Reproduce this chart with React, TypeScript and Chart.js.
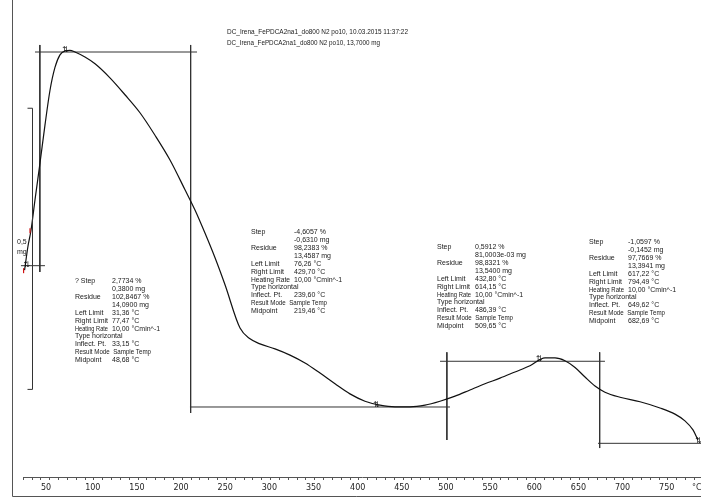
import React, { useEffect, useRef } from "react";
import { Chart, registerables } from "chart.js";
Chart.register(...registerables);

// ---- TGA curve: sample temperature (°C) vs mass (mg) ----
const tempC = [31.4, 35.3, 38.7, 43.2, 48.9, 54.5, 60.2, 65.9, 71.5, 77.2, 82.8, 88.5, 99.8, 111.2, 128.1, 145.1, 162.1, 179.1, 196.1, 213.1, 224.4, 235.7, 247.1, 258.4, 275.4, 286.7, 298.0, 315.0, 332.0, 349.0, 366.0, 383.0, 399.9, 416.9, 433.9, 450.9, 467.9, 484.9, 501.9, 518.9, 535.8, 552.8, 569.8, 586.8, 603.8, 620.8, 632.1, 643.4, 654.8, 666.1, 677.4, 688.7, 705.7, 728.4, 751.0, 768.0, 779.3, 788.4, 794.0];
const massMg = [13.702, 13.745, 13.773, 13.827, 13.893, 13.96, 14.022, 14.063, 14.085, 14.092, 14.093, 14.09, 14.081, 14.069, 14.044, 14.014, 13.982, 13.942, 13.898, 13.845, 13.809, 13.768, 13.724, 13.676, 13.599, 13.58, 13.571, 13.562, 13.551, 13.537, 13.519, 13.5, 13.482, 13.469, 13.462, 13.459, 13.459, 13.462, 13.469, 13.478, 13.489, 13.5, 13.51, 13.521, 13.532, 13.546, 13.546, 13.541, 13.529, 13.512, 13.496, 13.485, 13.476, 13.468, 13.457, 13.446, 13.434, 13.418, 13.4];

// ---- Step evaluation results ----
const stepPct = [2.7734, -4.6057, 0.5912, -1.0597];
const stepMg = [0.38, -0.631, 0.0810003, -0.1452];
const residuePct = [102.8467, 98.2383, 98.8321, 97.7669];
const residueMg = [14.09, 13.4587, 13.54, 13.3941];
const leftLimit = [31.36, 76.26, 432.8, 617.22];
const rightLimit = [77.47, 429.7, 614.15, 794.49];
const inflectPt = [33.15, 239.6, 486.39, 649.62];
const midpoint = [48.68, 219.46, 509.65, 682.69];
const heatingRate = "10,00 °Cmin^-1";
const stepNames = ["? Step", "Step", "Step", "Step"];

// baseline (horizontal) segment extents in °C, one per level (start level + after each step)
const levelSpans = [
  [27.3, 54.5],
  [43.2, 226.7],
  [218.7, 513.2],
  [501.9, 688.7],
  [680.8, 797.5],
];
// vertical midpoint line extents in mg [top, bottom]
const midSpans = [
  [14.1025, 13.6988],
  [14.1025, 13.448],
  [13.556, 13.4],
  [13.556, 13.3857],
];

const titleLines = [
  "DC_Irena_FePDCA2na1_do800 N2 po10, 10.03.2015 11:37:22",
  "DC_Irena_FePDCA2na1_do800 N2 po10, 13,7000 mg",
];
const tickLabelStep = 50;
const minorStep = 10;
const scaleBarMg = 0.5;

const fmt = (v: number, d: number) => v.toFixed(d).replace(".", ",");
const fmtMg = (v: number) =>
  Math.abs(v) < 0.1 ? fmt(v * 1000, 4) + "e-03 mg" : fmt(v, 4) + " mg";

const startLevel = residueMg[0] - stepMg[0];
const levels = [startLevel, ...residueMg];

// text block anchors (label x, value x, first-row y)
const blockPos = [
  [75, 112, 281],
  [251, 294, 232],
  [437, 475, 247],
  [589, 628, 242],
];
const rowOffsets = [0, 7.8, 16, 23.8, 32, 39.8, 47.6, 55.4, 63.4, 71.2, 79];

export default function App() {
  const ref = useRef<HTMLCanvasElement>(null);
  useEffect(() => {
    const canvas = ref.current!;
    const segSets: any[] = [];
    levelSpans.forEach((sp, i) => {
      segSets.push([{ x: sp[0], y: levels[i] }, { x: sp[1], y: levels[i] }]);
    });
    midSpans.forEach((sp, i) => {
      segSets.push([{ x: midpoint[i], y: sp[0] }, { x: midpoint[i], y: sp[1] }]);
    });

    const deco = {
      id: "deco",
      afterDraw(chart: any) {
        const ctx = chart.ctx as CanvasRenderingContext2D;
        const xs = chart.scales.x;
        const ys = chart.scales.y;
        ctx.save();
        // frame
        ctx.strokeStyle = "#555";
        ctx.lineWidth = 1;
        ctx.beginPath();
        ctx.moveTo(12.5, 0);
        ctx.lineTo(12.5, 496.5);
        ctx.lineTo(701, 496.5);
        ctx.stroke();

        // scale bar
        const sbx = 32.5, hook = 5;
        const sTop = ys.getPixelForValue(13.99);
        const sBot = ys.getPixelForValue(13.99 - scaleBarMg);
        ctx.strokeStyle = "#333";
        ctx.beginPath();
        ctx.moveTo(sbx - hook, sTop);
        ctx.lineTo(sbx, sTop);
        ctx.lineTo(sbx, sBot);
        ctx.lineTo(sbx - hook, sBot);
        ctx.stroke();

        ctx.font = "7px 'Liberation Sans'";
        ctx.fillStyle = "#1a1a1a";
        ctx.textBaseline = "middle";
        ctx.textAlign = "left";
        ctx.fillText("0,5", 17, 242);
        ctx.fillText("mg", 17, 252);

        // title
        ctx.fillText(titleLines[0], 227, 32, 181);
        ctx.fillText(titleLines[1], 227, 43, 153);

        // text blocks
        for (let i = 0; i < 4; i++) {
          const [lx, vx, y0] = blockPos[i];
          const rows: [string, string][] = [
            [stepNames[i], fmt(stepPct[i], 4) + " %"],
            ["", fmtMg(stepMg[i])],
            ["Residue", fmt(residuePct[i], 4) + " %"],
            ["", fmtMg(residueMg[i])],
            ["Left Limit", fmt(leftLimit[i], 2) + " °C"],
            ["Right Limit", fmt(rightLimit[i], 2) + " °C"],
            ["Heating Rate", heatingRate],
            ["Type horizontal", ""],
            ["Inflect. Pt.", fmt(inflectPt[i], 2) + " °C"],
            ["Result Mode  Sample Temp", ""],
            ["Midpoint", fmt(midpoint[i], 2) + " °C"],
          ];
          rows.forEach((r, k) => {
            const y = y0 + rowOffsets[k];
            if (r[0]) {
              if (r[1]) ctx.fillText(r[0], lx, y, vx - lx - 4);
              else ctx.fillText(r[0], lx, y, r[0].length > 16 ? 76 : 48);
            }
            if (r[1]) ctx.fillText(r[1], vx, y);
          });
        }

        // limit markers
        ctx.font = "8px 'DejaVu Sans'";
        ctx.textAlign = "center";
        ctx.fillStyle = "#111";
        for (let i = 0; i < 4; i++) {
          const px = xs.getPixelForValue(rightLimit[i]);
          const py = ys.getPixelForValue(residueMg[i]) - 2;
          ctx.fillText("⇅", px, py);
        }
        // inflection marker at start
        const m0 = chart.getDatasetMeta(0).data;
        ctx.fillText("⇅", m0[0].x + 2, m0[0].y - 5);

        // red markers
        ctx.strokeStyle = "#d01010";
        ctx.lineWidth = 1.2;
        [0, 2].forEach((idx) => {
          const p = m0[idx];
          ctx.beginPath();
          ctx.moveTo(p.x - 1, p.y - 2);
          ctx.lineTo(p.x - 1, p.y + 3);
          ctx.stroke();
        });

        // unit label
        ctx.font = "8px 'DejaVu Sans'";
        ctx.fillStyle = "#333";
        ctx.textAlign = "left";
        ctx.fillText("°C", 692, 488);
        ctx.restore();
      },
    };

    const chart = new Chart(canvas, {
      type: "line",
      data: {
        datasets: [
          {
            data: tempC.map((t, i) => ({ x: t, y: massMg[i] })),
            borderColor: "#111",
            borderWidth: 1.2,
            pointRadius: 0,
            cubicInterpolationMode: "monotone",
            fill: false,
          },
          ...segSets.map((d) => ({
            data: d,
            borderColor: "#333",
            borderWidth: 1,
            pointRadius: 0,
            tension: 0,
            clip: false as any,
          })),
        ],
      },
      options: {
        animation: false,
        responsive: false,
        devicePixelRatio: 1,
        layout: { padding: { left: 23, right: 0, top: 0, bottom: 0 } },
        plugins: { legend: { display: false }, tooltip: { enabled: false }, title: { display: false } },
        scales: {
          x: {
            type: "linear",
            position: "bottom",
            min: 29.62,
            max: 797.46,
            afterFit: (s: any) => {
              s.height = 20;
            },
            afterBuildTicks: (s: any) => {
              const t: any[] = [];
              for (let v = 30; v <= 790; v += minorStep) t.push({ value: v });
              s.ticks = t;
            },
            grid: { drawOnChartArea: false, drawTicks: true, tickLength: 3, color: "#555", tickColor: "#555" },
            border: { display: true, color: "#555", width: 1 },
            ticks: {
              autoSkip: false,
              maxRotation: 0,
              minRotation: 0,
              align: "start",
              padding: 3,
              color: "#222",
              font: { family: "DejaVu Sans", size: 8 },
              callback: (v: any) => (Math.round(v) % tickLabelStep === 0 ? String(Math.round(v)) : ""),
            },
          },
          y: {
            type: "linear",
            display: false,
            min: 13.3342,
            max: 14.1825,
          },
        },
      },
      plugins: [deco],
    });
    return () => chart.destroy();
  }, []);

  return (
    <div style={{ position: "fixed", left: 0, top: 0, width: 701, height: 497, background: "#fff" }}>
      <canvas ref={ref} width={701} height={497} style={{ display: "block" }} />
    </div>
  );
}
